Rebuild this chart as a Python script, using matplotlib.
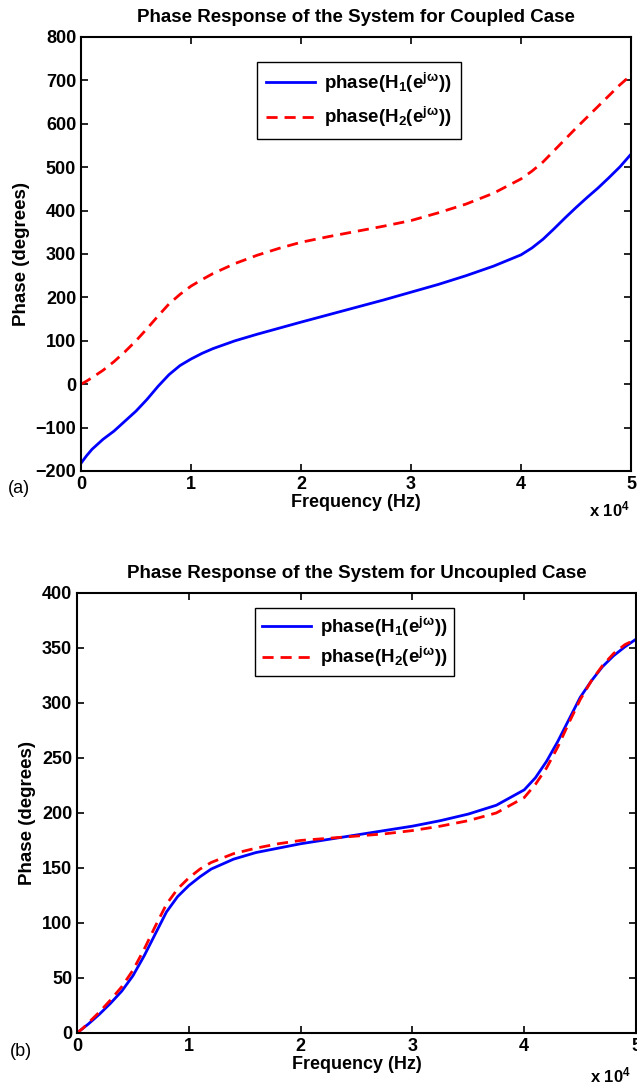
import matplotlib
matplotlib.use('Agg')
import matplotlib.pyplot as plt

plt.rcParams['font.family'] = ['Liberation Sans', 'DejaVu Sans']
plt.rcParams['font.weight'] = 'bold'
plt.rcParams['mathtext.default'] = 'regular'

# frequency points (x 10^4 Hz)
freq = [0, 0.05, 0.1, 0.2, 0.3, 0.4, 0.5, 0.6, 0.7, 0.8, 0.9, 1.0, 1.1, 1.2,
        1.4, 1.6, 1.8, 2.0, 2.25, 2.5, 2.75, 3.0, 3.25, 3.5, 3.75, 4.0,
        4.1, 4.2, 4.3, 4.4, 4.5, 4.6, 4.7, 4.8, 4.9, 5.0]

# coupled case
coupled_h1 = [-182, -165, -150, -127, -108, -85, -62, -35, -5, 22, 43, 58, 71, 82,
              100, 115, 129, 143, 160, 177, 194, 212, 230, 250, 272, 298,
              314, 334, 358, 383, 407, 430, 452, 476, 501, 530]
coupled_h2 = [0, 7, 15, 32, 52, 75, 100, 128, 157, 185, 207, 226, 241, 255,
              278, 297, 313, 327, 340, 352, 364, 377, 395, 415, 440, 473,
              491, 512, 538, 564, 590, 615, 640, 665, 690, 712]

# uncoupled case
uncoupled_h1 = [0, 4, 8, 17, 27, 38, 52, 70, 90, 110, 124, 134, 142, 149,
                158, 164, 168, 172, 176, 180, 184, 188, 193, 199, 207, 221,
                232, 247, 265, 285, 305, 320, 333, 343, 351, 358]
uncoupled_h2 = [0, 4, 9, 19, 30, 42, 57, 76, 97, 117, 131, 141, 149, 155,
                163, 168, 172, 175, 177, 179, 181, 184, 188, 193, 200, 214,
                226, 241, 260, 282, 303, 320, 334, 345, 353, 358]

lab1 = r'phase(H$_1$(e$^{j\omega}$))'
lab2 = r'phase(H$_2$(e$^{j\omega}$))'

fig = plt.figure(figsize=(6.37, 10.91), dpi=100)
ax1 = fig.add_axes([0.1272, 0.5683, 0.8634, 0.3978])
ax2 = fig.add_axes([0.1209, 0.0532, 0.8776, 0.4033])


def style(ax, yticks):
    ax.set_xlim(0, 5)
    ax.set_xticks([0, 1, 2, 3, 4, 5])
    ax.set_ylim(yticks[0], yticks[-1])
    ax.set_yticks(yticks)
    ax.set_yticklabels([str(v).replace('-', '\u2212') for v in yticks])
    ax.tick_params(direction='in', top=True, right=True, labelsize=13, width=1.2, length=5)
    for s in ax.spines.values():
        s.set_linewidth(1.5)
    ax.set_xlabel('Frequency (Hz)', fontsize=13, fontweight='bold', labelpad=1)
    ax.set_ylabel('Phase (degrees)', fontsize=13.5, fontweight='bold', labelpad=4)


ax1.plot(freq, coupled_h1, color='#0000ff', lw=2, label=lab1)
ax1.plot(freq, coupled_h2, color='#ff0000', lw=2, ls=(0, (4, 2.5)), label=lab2)
style(ax1, list(range(-200, 801, 100)))
ax1.set_title('Phase Response of the System for Coupled Case', fontsize=13.5, fontweight='bold', pad=11)
ax1.legend(loc='upper center', bbox_to_anchor=(0.505, 0.965), fontsize=13.5, fancybox=False,
           edgecolor='black', framealpha=1, handlelength=2.6, borderpad=0.5, labelspacing=0.55,
           handletextpad=0.5)

ax2.plot(freq, uncoupled_h1, color='#0000ff', lw=2, label=lab1)
ax2.plot(freq, uncoupled_h2, color='#ff0000', lw=2, ls=(0, (4, 2.5)), label=lab2)
style(ax2, list(range(0, 401, 50)))
ax2.set_title('Phase Response of the System for Uncoupled Case', fontsize=13.5, fontweight='bold', pad=11)
ax2.legend(loc='upper center', bbox_to_anchor=(0.497, 0.987), fontsize=13.5, fancybox=False,
           edgecolor='black', framealpha=1, handlelength=2.6, borderpad=0.35, labelspacing=0.35,
           handletextpad=0.5)

# exponent labels and panel tags
fig.text(0.925, 0.527, r'x 10$^4$', fontsize=12, fontweight='bold')
fig.text(0.927, 0.008, r'x 10$^4$', fontsize=12, fontweight='bold')
fig.text(0.012, 0.548, '(a)', fontsize=13, fontweight='normal')
fig.text(0.015, 0.032, '(b)', fontsize=13, fontweight='normal')

fig.savefig('out.png', dpi=100)
